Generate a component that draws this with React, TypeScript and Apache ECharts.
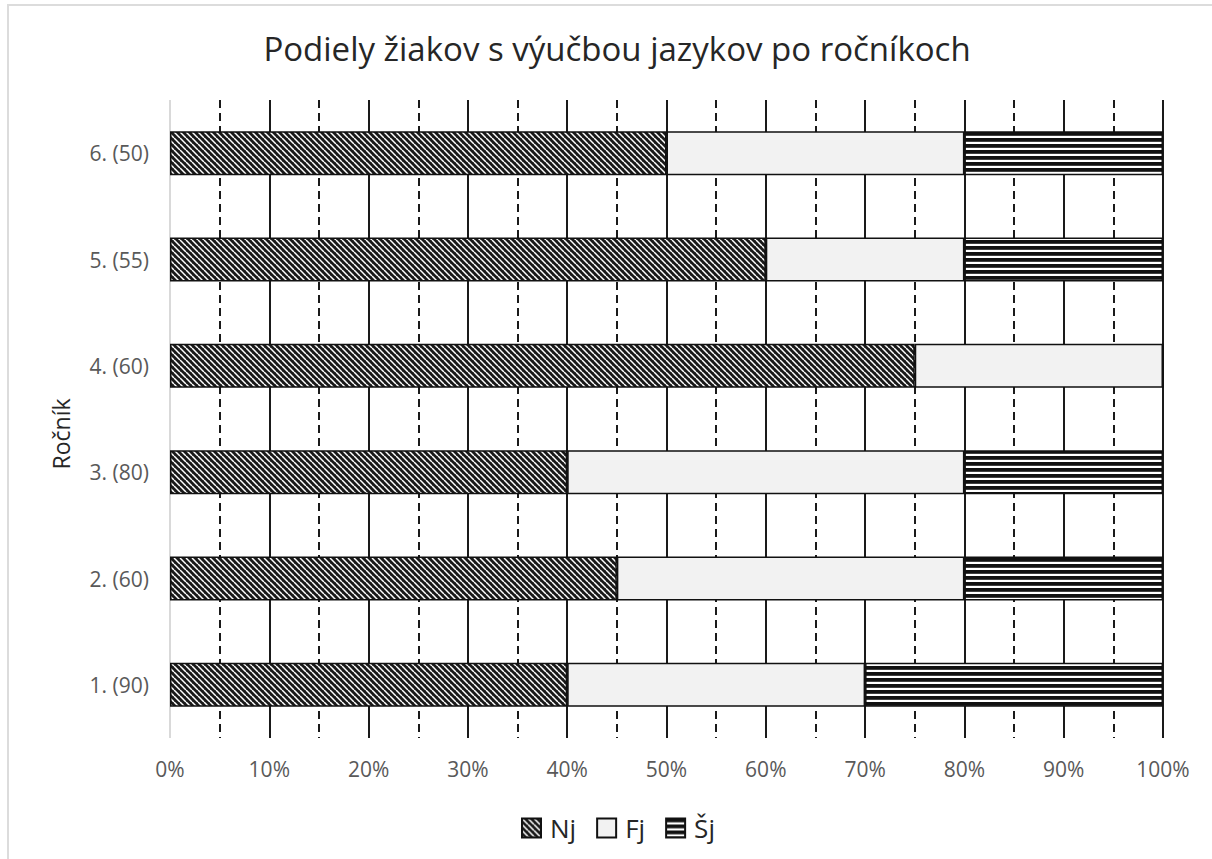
import React, { useEffect, useRef } from "react";
import * as echarts from "echarts";

const categories = ["1. (90)", "2. (60)", "3. (80)", "4. (60)", "5. (55)", "6. (50)"];
const seriesNames = ["Nj", "Fj", "Šj"];
const nj = [40, 45, 40, 75, 60, 50];
const fj = [30, 35, 40, 25, 20, 30];
const sj = [30, 20, 20, 0, 20, 20];

function makePattern(kind: "diag" | "horiz"): string {
  const c = document.createElement("canvas");
  if (kind === "diag") {
    const s = 6;
    c.width = s;
    c.height = s;
    const g = c.getContext("2d")!;
    g.fillStyle = "#1a1a1a";
    g.fillRect(0, 0, s, s);
    g.strokeStyle = "#ffffff";
    g.lineWidth = 1.5;
    for (let k = -1; k <= 1; k++) {
      g.beginPath();
      g.moveTo(k * s, 0);
      g.lineTo(k * s + s, s);
      g.stroke();
    }
  } else {
    c.width = 8;
    c.height = 6;
    const g = c.getContext("2d")!;
    g.fillStyle = "#ffffff";
    g.fillRect(0, 0, 8, 6);
    g.fillStyle = "#111111";
    g.fillRect(0, 0, 8, 3.8);
  }
  return c.toDataURL();
}

export default function App() {
  const ref = useRef<HTMLDivElement>(null);
  useEffect(() => {
    if (!ref.current) return;
    const chart = echarts.init(ref.current, undefined, { renderer: "svg" });
    const diag = { image: makePattern("diag"), repeat: "repeat" } as any;
    const horiz = { image: makePattern("horiz"), repeat: "repeat" } as any;
    const fills = [diag, "#f2f2f2", horiz];
    const dataSets = [nj, fj, sj];
    const font = "'Open Sans', 'Noto Sans', sans-serif";
    chart.setOption({
      animation: false,
      backgroundColor: "#ffffff",
      title: {
        text: "Podiely žiakov s výučbou jazykov po ročníkoch",
        left: 612,
        top: 27,
        textAlign: "center",
        textStyle: { fontFamily: font, fontSize: 33, fontWeight: "normal", color: "#262626" },
      },
      legend: {
        top: 810,
        left: 516,
        itemWidth: 19,
        itemHeight: 19,
        itemGap: 20,
        icon: "rect",
        textStyle: { fontFamily: font, fontSize: 26, color: "#262626", padding: [0, 0, 0, 4] },
        data: seriesNames,
      },
      grid: { left: 170, right: 49, top: 100, bottom: 121, containLabel: false },
      xAxis: {
        type: "value",
        min: 0,
        max: 100,
        interval: 10,
        axisLine: { show: false },
        axisTick: { show: false },
        axisLabel: {
          formatter: "{value}%",
          margin: 20,
          fontFamily: font,
          fontSize: 21,
          color: "#595959",
        },
        splitLine: {
          show: true,
          lineStyle: {
            color: ["#d9d9d9", "#1a1a1a", "#1a1a1a", "#1a1a1a", "#1a1a1a", "#1a1a1a", "#1a1a1a", "#1a1a1a", "#1a1a1a", "#1a1a1a", "#1a1a1a"],
            width: 2,
          },
        },
        minorTick: { show: false, splitNumber: 2 },
        minorSplitLine: { show: true, lineStyle: { color: "#1a1a1a", width: 2, type: [8, 5] } },
      },
      yAxis: {
        type: "category",
        data: categories,
        axisLine: { show: false },
        axisTick: { show: false },
        axisLabel: { margin: 21, fontFamily: font, fontSize: 21, color: "#595959" },
      },
      graphic: [
        {
          type: "rect",
          shape: { x: 8, y: 5, width: 1230, height: 880 },
          style: { fill: "none", stroke: "#dcdcdc", lineWidth: 2 },
          silent: true,
        },
        {
          type: "text",
          x: 61,
          y: 434,
          rotation: Math.PI / 2,
          style: {
            text: "Ročník",
            fontFamily: font,
            fontSize: 23,
            fill: "#262626",
            align: "center",
            verticalAlign: "middle",
          },
        },
      ],
      series: seriesNames.map((name, i) => ({
        name,
        type: "bar",
        stack: "total",
        barWidth: 44,
        data: dataSets[i],
        itemStyle: { color: fills[i], borderColor: "#111111", borderWidth: 1.5 },
        emphasis: { disabled: true },
      })),
    });
    return () => chart.dispose();
  }, []);
  return (
    <div
      ref={ref}
      style={{ position: "absolute", left: 0, top: 0, width: 1212, height: 859 }}
    />
  );
}
